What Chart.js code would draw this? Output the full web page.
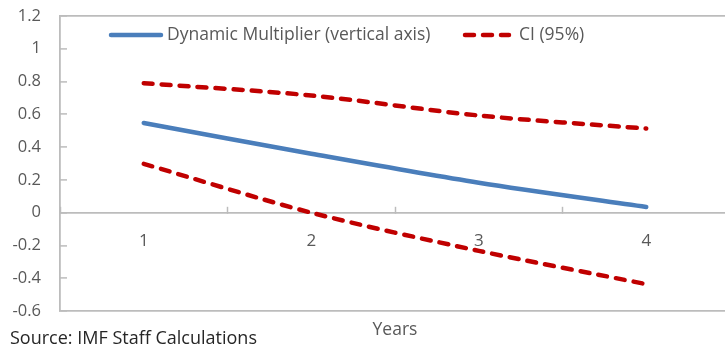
<!DOCTYPE html>
<html>
<head>
<meta charset="utf-8">
<script src="https://cdn.jsdelivr.net/npm/chart.js@4/dist/chart.umd.min.js"></script>
<style>
  html, body { margin: 0; padding: 0; background: #fff; overflow: hidden; }
  #wrap { width: 725px; height: 347px; overflow: hidden; }
</style>
</head>
<body>
<!-- canvas is a little wider than the window: the plot area runs past the right edge in the original -->
<div id="wrap"><canvas id="multChart" width="730" height="347"></canvas></div>
<script>
// --- data ---
const years = ["1", "2", "3", "4"];
const multiplier = [0.547, 0.36, 0.183, 0.035];
const ciUpper = [0.79, 0.715, 0.593, 0.513];
const ciLower = [0.298, 0.0, -0.233, -0.436];
const yTicks = [-0.6, -0.4, -0.2, 0, 0.2, 0.4, 0.6, 0.8, 1, 1.2];

const FONT = "'Open Sans', 'Noto Sans', sans-serif";
const AXIS_GREY = "#BCBCBC";
const TEXT_GREY = "#595959";

// legend drawn inside the plot, like the original
const insideLegend = {
    id: "insideLegend",
    afterDraw(chart, args, opts) {
        const ctx = chart.ctx;
        ctx.save();
        ctx.font = opts.fontSize + "px " + FONT;
        ctx.textBaseline = "middle";
        opts.items.forEach(item => {
            const ds = chart.data.datasets[item.dataset];
            ctx.strokeStyle = ds.borderColor;
            ctx.lineWidth = ds.borderWidth;
            ctx.lineCap = "round";
            ctx.setLineDash(ds.borderDash || []);
            ctx.beginPath();
            ctx.moveTo(item.x, opts.y);
            ctx.lineTo(item.x + item.w, opts.y);
            ctx.stroke();
            ctx.setLineDash([]);
            ctx.fillStyle = TEXT_GREY;
            ctx.fillText(ds.label, item.x + item.w + item.gap, opts.y);
        });
        ctx.restore();
    }
};

// source note at the bottom left
const sourceNote = {
    id: "sourceNote",
    afterDraw(chart, args, opts) {
        const ctx = chart.ctx;
        ctx.save();
        ctx.font = opts.fontSize + "px " + FONT;
        ctx.fillStyle = opts.color;
        ctx.textBaseline = "middle";
        ctx.fillText(opts.text, opts.x, opts.y);
        ctx.restore();
    }
};

const ctx = document.getElementById("multChart").getContext("2d");
new Chart(ctx, {
    type: "line",
    data: {
        labels: years,
        datasets: [
            {
                label: "Dynamic Multiplier (vertical axis)",
                data: multiplier,
                borderColor: "#4A7EBB",
                borderWidth: 4.5,
                borderCapStyle: "round",
                pointRadius: 0,
                tension: 0.3,
                fill: false
            },
            {
                label: "CI (95%)",
                data: ciUpper,
                borderColor: "#C00000",
                borderWidth: 4.5,
                borderDash: [9, 9],
                borderCapStyle: "round",
                pointRadius: 0,
                tension: 0.3,
                fill: false
            },
            {
                label: "CI (95%)",
                data: ciLower,
                borderColor: "#C00000",
                borderWidth: 4.5,
                borderDash: [9, 9],
                borderCapStyle: "round",
                pointRadius: 0,
                tension: 0.3,
                fill: false
            }
        ]
    },
    options: {
        responsive: false,
        animation: false,
        layout: { padding: { left: 10, right: 0, top: 16, bottom: 6 } },
        plugins: {
            legend: { display: false },
            tooltip: { enabled: false },
            insideLegend: {
                y: 35,
                fontSize: 17.5,
                items: [
                    { dataset: 0, x: 111, w: 50, gap: 6 },
                    { dataset: 1, x: 465, w: 44, gap: 10 }
                ]
            },
            sourceNote: {
                text: "Source: IMF Staff Calculations",
                x: 10, y: 339, fontSize: 18, color: "#262626"
            }
        },
        scales: {
            x: {
                type: "category",
                position: { y: 0 },
                offset: true,
                grid: {
                    display: true,
                    drawOnChartArea: false,
                    offset: true,
                    tickLength: -7,
                    tickColor: AXIS_GREY,
                    tickWidth: 1.5
                },
                border: { display: true, color: AXIS_GREY, width: 1.8 },
                ticks: {
                    padding: 25,
                    color: TEXT_GREY,
                    font: { family: FONT, size: 17 }
                }
            },
            x2: {
                type: "category",
                position: "bottom",
                offset: true,
                grid: { display: false, drawTicks: false },
                border: { display: false },
                ticks: { display: false },
                title: {
                    display: true,
                    text: "Years",
                    color: TEXT_GREY,
                    font: { family: FONT, size: 17.5 },
                    padding: { top: 9, bottom: 0 }
                }
            },
            y: {
                min: -0.6,
                max: 1.2,
                afterBuildTicks: scale => { scale.ticks = yTicks.map(v => ({ value: v })); },
                afterFit: s => {
                    s.width = 50;
                    s.paddingTop = 10;
                    s.paddingBottom = 10;
                },
                grid: {
                    color: c => (c.tick && (c.tick.value === 1.2 || c.tick.value === -0.6)) ? AXIS_GREY : "rgba(0,0,0,0)",
                    lineWidth: 1.8,
                    tickLength: -7,
                    tickColor: AXIS_GREY,
                    tickWidth: 1.5
                },
                border: { display: true, color: AXIS_GREY, width: 1.8 },
                ticks: {
                    padding: 26,
                    color: TEXT_GREY,
                    font: { family: FONT, size: 16.5 },
                    callback: v => String(Math.round(v * 10) / 10)
                }
            }
        }
    },
    plugins: [insideLegend, sourceNote]
});
</script>
</body>
</html>
